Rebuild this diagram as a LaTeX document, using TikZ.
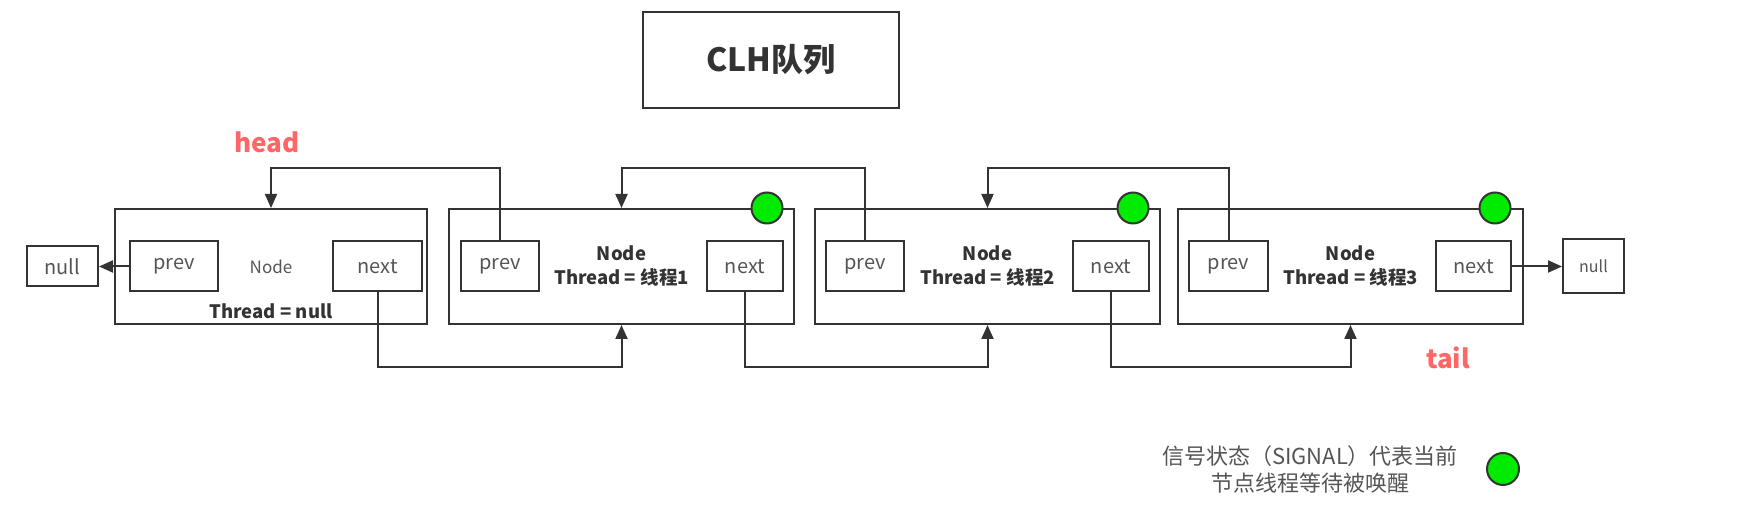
\documentclass[tikz,border=0pt]{standalone}
\usepackage{fontspec}
\setmainfont{Noto Sans CJK SC}
\usepackage{tikz}
\usetikzlibrary{positioning,arrows.meta}
\definecolor{linegray}{HTML}{333333}
\definecolor{textgray}{HTML}{555555}
\definecolor{signal}{RGB}{0,235,0}
\definecolor{tagred}{RGB}{255,102,102}

\begin{document}
\begin{tikzpicture}[x=1pt, y=1pt,
  box/.style={draw=linegray, line width=2pt, rectangle, inner sep=0pt},
  holder/.style={box, minimum width=345pt, minimum height=115pt, align=center, text=linegray, font=\bfseries\fontsize{18.5}{24}\selectfont},
  field/.style={box, minimum height=50pt, text=textgray, font=\fontsize{20}{24}\selectfont},
  dot/.style={draw=linegray, line width=2pt, fill=signal, circle, minimum size=31pt, inner sep=0pt},
  link/.style={-{Triangle[length=14pt,width=12pt]}, line width=2pt, draw=linegray},
  tag/.style={text=tagred, font=\bfseries\fontsize{26}{30}\selectfont}]
\useasboundingbox (0,0) rectangle (1754,518);

% title
\node[box, minimum width=256pt, minimum height=96pt, text=linegray, font=\bfseries\fontsize{32}{36}\selectfont] (title) at (771,458) {CLH队列};

% queue nodes
\node[holder, minimum width=312pt, text=textgray, font=\fontsize{17}{20}\selectfont] (n0) at (271,251.5) {Node};
\node[holder, right=20pt of n0] (n1) {Node\\Thread = 线程1};
\node[holder, right=19pt of n1] (n2) {Node\\Thread = 线程2};
\node[holder, right=16pt of n2] (n3) {Node\\Thread = 线程3};
\node[text=linegray, font=\bfseries\fontsize{18.5}{22}\selectfont] (t0) at ([yshift=14pt]n0.south) {Thread = null};

% prev / next fields
\node[field, minimum width=88pt, right=15pt of n0.west] (prev0) {prev};
\node[field, minimum width=89pt, left=5pt of n0.east] (next0) {next};
\node[field, minimum width=78pt, right=12pt of n1.west] (prev1) {prev};
\node[field, minimum width=76pt, left=11pt of n1.east] (next1) {next};
\node[field, minimum width=78pt, right=11pt of n2.west] (prev2) {prev};
\node[field, minimum width=76pt, left=11pt of n2.east] (next2) {next};
\node[field, minimum width=79pt, right=11pt of n3.west] (prev3) {prev};
\node[field, minimum width=75pt, left=12pt of n3.east] (next3) {next};

% signal dots
\node[dot] (s1) at ([xshift=-28pt]n1.north east) {};
\node[dot] (s2) at ([xshift=-28pt]n2.north east) {};
\node[dot] (s3) at ([xshift=-29pt]n3.north east) {};

% null ends
\node[box, minimum width=71pt, minimum height=40pt, text=textgray, font=\fontsize{20}{24}\selectfont, left=15pt of n0] (nullL) {null};
\node[box, minimum width=61pt, minimum height=54pt, text=textgray, font=\fontsize{16}{20}\selectfont, right=38pt of n3] (nullR) {null};

\node[tag] (head) at (267,376) {head};
\node[tag] (tail) at (1448,160) {tail};

\coordinate (upper) at (0,350);
\coordinate (lower) at (0,151);

% links
\draw[link] (prev0.west) -- (nullL.east);
\draw[link] (next3.east) -- (nullR.west);
\draw[link] (prev1.north) |- (n0.north |- upper) -- (n0.north);
\draw[link] (prev2.north) |- (n1.north |- upper) -- (n1.north);
\draw[link] (prev3.north) |- (n2.north |- upper) -- (n2.north);
\draw[link] (next0.south) |- (n1.south |- lower) -- (n1.south);
\draw[link] (next1.south) |- (n2.south |- lower) -- (n2.south);
\draw[link] (next2.south) |- (n3.south |- lower) -- (n3.south);

% legend
\node[text=textgray, align=center, font=\fontsize{22}{27}\selectfont] (legend) at (1310,49) {信号状态（SIGNAL）代表当前\\节点线程等待被唤醒};
\node[dot, minimum size=32pt] (key) at (1503,49) {};
\end{tikzpicture}
\end{document}
